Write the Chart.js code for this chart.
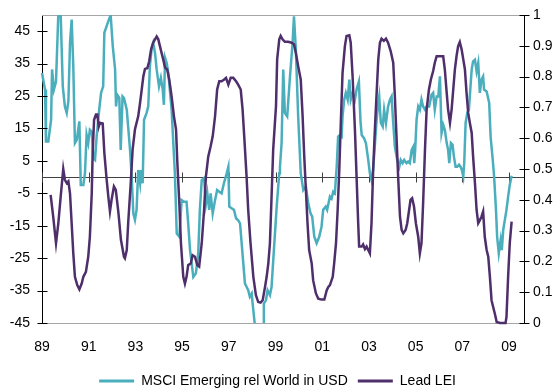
<!DOCTYPE html>
<html><head><meta charset="utf-8">
<script src="https://cdn.jsdelivr.net/npm/chart.js@4.4.1/dist/chart.umd.min.js"></script>
<style>html,body{margin:0;padding:0;background:#fff}canvas{display:block}</style>
</head><body>
<canvas id="c" width="555" height="392"></canvas>
<script>
const seriesNames = ['MSCI Emerging rel World in USD', 'Lead LEI'];
const xTickYears = [1989,1991,1993,1995,1997,1999,2001,2003,2005,2007,2009];
const xRange = [1989, 2009.64];
const leftTicks = [-45,-35,-25,-15,-5,5,15,25,35,45];
const leftRange = [-45, 50];
const rightTicks = [0,0.1,0.2,0.3,0.4,0.5,0.6,0.7,0.8,0.9,1];
const rightRange = [0, 1];

const msciYears = [
1989.00,1989.13,1989.17,1989.27,1989.39,1989.43,1989.51,1989.60,1989.70,1989.76,
1989.89,1989.98,1990.06,1990.13,1990.20,1990.27,1990.34,1990.41,1990.49,1990.55,
1990.60,1990.66,1990.77,1990.84,1990.91,1990.98,1991.05,1991.13,1991.20,1991.27,
1991.34,1991.45,1991.53,1991.62,1991.67,1991.84,1991.94,1992.03,1992.13,1992.17,
1992.22,1992.31,1992.37,1992.45,1992.51,1992.63,1992.77,1992.84,1992.91,1992.98,
1993.05,1993.12,1993.20,1993.24,1993.31,1993.37,1993.48,1993.55,1993.62,1993.70,
1993.76,1993.84,1993.91,1994.01,1994.09,1994.17,1994.22,1994.27,1994.34,1994.41,
1994.55,1994.69,1994.77,1994.88,1994.98,1995.08,1995.19,1995.26,1995.34,1995.48,
1995.59,1995.69,1995.76,1995.84,1995.94,1996.02,1996.08,1996.16,1996.22,1996.31,
1996.41,1996.50,1996.59,1996.69,1996.79,1996.91,1996.98,1997.02,1997.12,1997.22,
1997.31,1997.40,1997.48,1997.55,1997.62,1997.69,1997.83,1997.90,1997.98,1998.02,
1998.12,1998.20,1998.38,1998.47,1998.50,1998.59,1998.66,1998.76,1998.83,1998.93,
1999.05,1999.16,1999.19,1999.26,1999.33,1999.40,1999.50,1999.62,1999.73,1999.79,
1999.87,1999.97,2000.08,2000.19,2000.30,2000.40,2000.50,2000.57,2000.66,2000.76,
2000.87,2000.97,2001.04,2001.15,2001.21,2001.33,2001.40,2001.47,2001.54,2001.62,
2001.68,2001.76,2001.83,2001.87,2001.94,2002.01,2002.09,2002.16,2002.22,2002.30,
2002.40,2002.47,2002.57,2002.64,2002.69,2002.79,2002.87,2002.97,2003.04,2003.11,
2003.18,2003.26,2003.33,2003.40,2003.44,2003.51,2003.59,2003.65,2003.73,2003.82,
2003.90,2003.97,2004.04,2004.11,2004.21,2004.30,2004.36,2004.44,2004.51,2004.61,
2004.68,2004.75,2004.83,2004.90,2004.94,2004.98,2005.04,2005.11,2005.18,2005.25,
2005.32,2005.40,2005.47,2005.58,2005.68,2005.75,2005.82,2005.90,2005.97,2006.04,
2006.11,2006.18,2006.25,2006.33,2006.39,2006.44,2006.51,2006.58,2006.64,2006.71,
2006.78,2006.86,2006.92,2006.98,2007.04,2007.08,2007.14,2007.21,2007.28,2007.40,
2007.46,2007.54,2007.61,2007.68,2007.75,2007.82,2007.89,2007.93,2008.04,2008.15,
2008.21,2008.29,2008.36,2008.44,2008.49,2008.56,2008.64,2008.69,2008.75,2008.82,
2008.89,2008.96,2009.03,2009.11];
const msciValues = [
32.1,27,11,11,17.7,33.2,27,29.5,50.5,60,
28,21.8,19.8,23.4,41.4,48.6,34.2,10.5,11.5,14.6,
17.2,-2.4,-2.4,1.2,13,10.5,14.6,14,5.8,5.3,
12.5,20.8,26,28,44.5,48.1,50,40.4,33.2,21.8,
25.4,24.4,8.4,24.9,24.4,20.8,8.4,0.2,-11.2,-13.2,
-10.1,2.2,-1.9,2.2,-1.9,17.7,19.8,21.8,34.2,39.9,
41.4,38.3,33.2,28,30.6,27,22.3,36.8,35.2,32.1,
20.8,1.2,-17.4,-18.4,-7.1,-7.6,-7.6,-14.3,-22.5,-30.8,
-29.7,-23.5,-10.1,-0.9,-0.3,-8.1,-5,-10.1,-5,-11.2,
-7.1,-4,-4.5,-5,-1.9,1.2,3.2,-9.1,-9.6,-10.1,
-12.7,-13.3,-14.3,-20.4,-26.6,-32.8,-34.9,-36.9,-35.9,-39,
-46,-52,-52,-46,-39,-38,-34.9,-36.4,-33.9,-22.5,
-9.1,1.2,3.2,10.5,33.2,19.8,18.7,31.1,41.4,49.6,
39.3,18.7,1.2,-4,-2.9,-8.1,-11.2,-12.2,-18.4,-20.4,
-18.4,-15.3,-10.1,-9.1,-10.1,-6,-6.6,-4.5,-5,3.2,
12.5,13,12.5,18.7,23.9,26,23.9,30.1,23.9,26,
23.9,27,29.5,17,13,12,10.5,5.3,1.2,-0.9,
2.2,10.5,17.7,22.9,24.9,16.7,15.6,20.8,16.7,21.8,
23.9,24.9,16.7,9.4,5.3,3.2,5.3,4.3,5.3,4.3,
4.8,4.3,8.4,9.4,4.3,8.4,17.7,21.8,20.8,23.9,
21.8,20.8,21.8,21.8,25.4,26,20.8,24.9,24.9,31.1,
13.6,16.1,14.6,10.5,8.4,4.3,10.5,10,6.3,3.2,
3.2,3.8,3.2,2.2,0.2,4.3,16.7,19.8,20.8,33.2,
35.7,36.2,32.6,35.2,26,30.1,31.1,27,26.4,22.9,
12.5,6.3,0.2,-10.1,-18.4,-23.5,-19.4,-22.5,-16.3,-13.2,
-10.1,-6,-2.4,0.4];

const leiYears = [
1989.37,1989.48,1989.60,1989.70,1989.80,1989.91,1989.98,1990.06,1990.13,1990.20,
1990.27,1990.34,1990.41,1990.51,1990.60,1990.70,1990.77,1990.88,1990.98,1991.05,
1991.13,1991.17,1991.23,1991.31,1991.37,1991.43,1991.48,1991.60,1991.67,1991.77,
1991.84,1991.91,1991.98,1992.08,1992.16,1992.27,1992.38,1992.51,1992.55,1992.63,
1992.69,1992.80,1992.88,1992.98,1993.05,1993.12,1993.20,1993.27,1993.34,1993.41,
1993.51,1993.59,1993.67,1993.76,1993.84,1993.91,1993.98,1994.05,1994.12,1994.19,
1994.27,1994.36,1994.45,1994.55,1994.65,1994.74,1994.79,1994.88,1994.95,1995.05,
1995.12,1995.19,1995.26,1995.37,1995.45,1995.55,1995.65,1995.73,1995.84,1995.94,
1996.02,1996.12,1996.22,1996.31,1996.41,1996.50,1996.59,1996.69,1996.79,1996.88,
1996.98,1997.08,1997.19,1997.31,1997.40,1997.51,1997.59,1997.66,1997.76,1997.83,
1997.93,1998.05,1998.16,1998.26,1998.36,1998.45,1998.55,1998.62,1998.69,1998.76,
1998.83,1998.90,1999.02,1999.07,1999.16,1999.22,1999.30,1999.40,1999.54,1999.69,
1999.79,1999.87,1999.97,2000.08,2000.16,2000.23,2000.30,2000.37,2000.44,2000.55,
2000.61,2000.73,2000.83,2000.97,2001.09,2001.19,2001.26,2001.33,2001.45,2001.51,
2001.59,2001.66,2001.73,2001.80,2001.87,2001.97,2002.04,2002.16,2002.22,2002.30,
2002.40,2002.47,2002.54,2002.58,2002.69,2002.75,2002.83,2002.90,2002.97,2003.04,
2003.11,2003.18,2003.26,2003.33,2003.40,2003.47,2003.54,2003.64,2003.73,2003.82,
2003.93,2004.04,2004.11,2004.18,2004.25,2004.33,2004.40,2004.47,2004.57,2004.64,
2004.72,2004.78,2004.85,2004.93,2005.01,2005.11,2005.18,2005.25,2005.32,2005.40,
2005.47,2005.57,2005.65,2005.75,2005.82,2005.90,2006.04,2006.18,2006.25,2006.33,
2006.39,2006.47,2006.54,2006.61,2006.68,2006.75,2006.82,2006.89,2006.97,2007.04,
2007.11,2007.18,2007.25,2007.32,2007.40,2007.46,2007.54,2007.61,2007.68,2007.75,
2007.82,2007.89,2007.96,2008.04,2008.11,2008.18,2008.25,2008.32,2008.39,2008.47,
2008.61,2008.75,2008.85,2008.89,2008.96,2009.03,2009.11];
const leiValues = [
0.416,0.345,0.259,0.324,0.41,0.50,0.465,0.454,0.46,0.42,
0.324,0.226,0.15,0.123,0.109,0.128,0.15,0.166,0.215,0.28,
0.421,0.552,0.66,0.677,0.677,0.638,0.65,0.648,0.552,0.465,
0.41,0.362,0.40,0.443,0.432,0.36,0.27,0.215,0.21,0.237,
0.324,0.454,0.563,0.628,0.65,0.671,0.715,0.758,0.801,0.825,
0.827,0.85,0.888,0.91,0.921,0.93,0.921,0.899,0.877,0.856,
0.829,0.823,0.79,0.736,0.671,0.628,0.53,0.389,0.259,0.15,
0.128,0.15,0.188,0.193,0.22,0.215,0.188,0.183,0.259,0.367,
0.476,0.541,0.573,0.606,0.671,0.758,0.785,0.785,0.79,0.796,
0.774,0.796,0.796,0.785,0.774,0.758,0.693,0.606,0.476,0.367,
0.259,0.15,0.09,0.068,0.066,0.074,0.117,0.15,0.193,0.259,
0.41,0.563,0.704,0.856,0.921,0.932,0.921,0.913,0.913,0.91,
0.905,0.877,0.834,0.79,0.671,0.541,0.432,0.324,0.237,0.193,
0.139,0.096,0.079,0.076,0.076,0.106,0.117,0.123,0.15,0.193,
0.259,0.367,0.497,0.66,0.812,0.899,0.932,0.934,0.91,0.801,
0.628,0.476,0.324,0.248,0.248,0.255,0.24,0.248,0.237,0.226,
0.324,0.497,0.638,0.747,0.856,0.91,0.923,0.916,0.923,0.91,
0.883,0.845,0.736,0.606,0.476,0.345,0.302,0.291,0.302,0.324,
0.367,0.40,0.405,0.378,0.324,0.28,0.226,0.259,0.389,0.563,
0.693,0.758,0.79,0.818,0.845,0.866,0.866,0.866,0.823,0.747,
0.693,0.65,0.693,0.758,0.823,0.866,0.899,0.912,0.888,0.856,
0.823,0.747,0.682,0.65,0.617,0.541,0.454,0.367,0.324,0.334,
0.345,0.362,0.28,0.237,0.215,0.15,0.074,0.052,0.031,0.003,
0,0,0,0.02,0.15,0.259,0.329];

const seriesColors = ['#4aaebd', '#4f2f6b'];

Chart.defaults.font.family = "'Liberation Sans', Arial, sans-serif";
Chart.defaults.font.size = 14;
Chart.defaults.color = '#000';

const decoPlugin = {
  id: 'deco',
  beforeDatasetsDraw(chart) {
    const {ctx, chartArea: a, scales} = chart;
    ctx.save();
    ctx.lineWidth = 1;
    ctx.strokeStyle = '#a6a6a6';
    ctx.beginPath();
    ctx.moveTo(a.left, Math.round(a.top) + 0.5);
    ctx.lineTo(a.right, Math.round(a.top) + 0.5);
    ctx.stroke();
    const y0 = Math.round(scales.y.getPixelForValue(0)) + 0.5;
    ctx.strokeStyle = '#404040';
    ctx.beginPath();
    ctx.moveTo(a.left, y0);
    ctx.lineTo(a.right, y0);
    xTickYears.forEach(t => {
      const px = Math.round(scales.x.getPixelForValue(t)) + 0.5;
      ctx.moveTo(px, y0 - 5);
      ctx.lineTo(px, y0 + 5);
    });
    ctx.stroke();
    ctx.restore();
  },
  afterDraw(chart) {
    const {ctx, chartArea: a, scales} = chart;
    ctx.save();
    ctx.lineWidth = 1;
    ctx.strokeStyle = '#000';
    ctx.beginPath();
    const lx = Math.round(a.left) + 0.5;
    leftTicks.forEach(v => {
      const py = Math.round(scales.y.getPixelForValue(v)) + 0.5;
      ctx.moveTo(lx - 5, py); ctx.lineTo(lx + 5, py);
    });
    const rx = Math.round(a.right) + 0.5;
    rightTicks.forEach(v => {
      const py = Math.round(scales.y1.getPixelForValue(v)) + 0.5;
      ctx.moveTo(rx - 5, py); ctx.lineTo(rx + 5, py);
    });
    ctx.stroke();
    ctx.restore();
  }
};

new Chart(document.getElementById('c'), {
  type: 'line',
  data: {
    datasets: [
      {
        label: seriesNames[0],
        data: msciYears.map((x, i) => ({x, y: msciValues[i]})),
        borderColor: seriesColors[0],
        backgroundColor: seriesColors[0],
        borderWidth: 2.5,
        pointRadius: 0,
        tension: 0,
        yAxisID: 'y',
        order: 1,
        clip: {left: 3, right: 3, top: 0, bottom: 0}
      },
      {
        label: seriesNames[1],
        data: leiYears.map((x, i) => ({x, y: leiValues[i]})),
        borderColor: seriesColors[1],
        backgroundColor: seriesColors[1],
        borderWidth: 2.5,
        pointRadius: 0,
        tension: 0,
        yAxisID: 'y1',
        order: 0,
        clip: 3
      }
    ]
  },
  options: {
    responsive: false,
    animation: false,
    layout: {padding: {top: 15, left: 0, right: 0, bottom: -6}},
    plugins: {
      tooltip: {enabled: false},
      legend: {
        position: 'bottom',
        labels: {
          boxWidth: 35,
          boxHeight: 3,
          padding: 10,
          font: {size: 14},
          sort: (a, b) => a.datasetIndex - b.datasetIndex,
          generateLabels: (chart) => Chart.defaults.plugins.legend.labels.generateLabels(chart).map(it => Object.assign(it, {lineWidth: 0, fillStyle: it.strokeStyle}))
        }
      }
    },
    scales: {
      x: {
        type: 'linear',
        min: xRange[0], max: xRange[1],
        grid: {display: false, drawTicks: false},
        border: {display: true, color: '#a6a6a6'},
        afterBuildTicks: s => { s.ticks = xTickYears.map(v => ({value: v})); },
        afterFit: s => { s.height = 41; },
        ticks: {
          autoSkip: false, maxRotation: 0, padding: 16,
          callback: v => String(Math.round(v) % 100).padStart(2, '0')
        }
      },
      y: {
        type: 'linear', position: 'left',
        min: leftRange[0], max: leftRange[1],
        grid: {display: false, drawTicks: false},
        border: {display: true, color: '#000'},
        afterBuildTicks: s => { s.ticks = leftTicks.map(v => ({value: v})); },
        afterFit: s => { s.width = 42; s.paddingTop = 0; s.paddingBottom = 0; },
        ticks: {padding: 12, callback: v => String(v)}
      },
      y1: {
        type: 'linear', position: 'right',
        min: rightRange[0], max: rightRange[1],
        grid: {display: false, drawTicks: false},
        border: {display: true, color: '#000'},
        afterBuildTicks: s => { s.ticks = rightTicks.map(v => ({value: v})); },
        afterFit: s => { s.width = 31; s.paddingTop = 0; s.paddingBottom = 0; },
        ticks: {padding: 9, callback: v => String(+v.toFixed(1))}
      }
    }
  },
  plugins: [decoPlugin]
});
</script>
</body></html>
